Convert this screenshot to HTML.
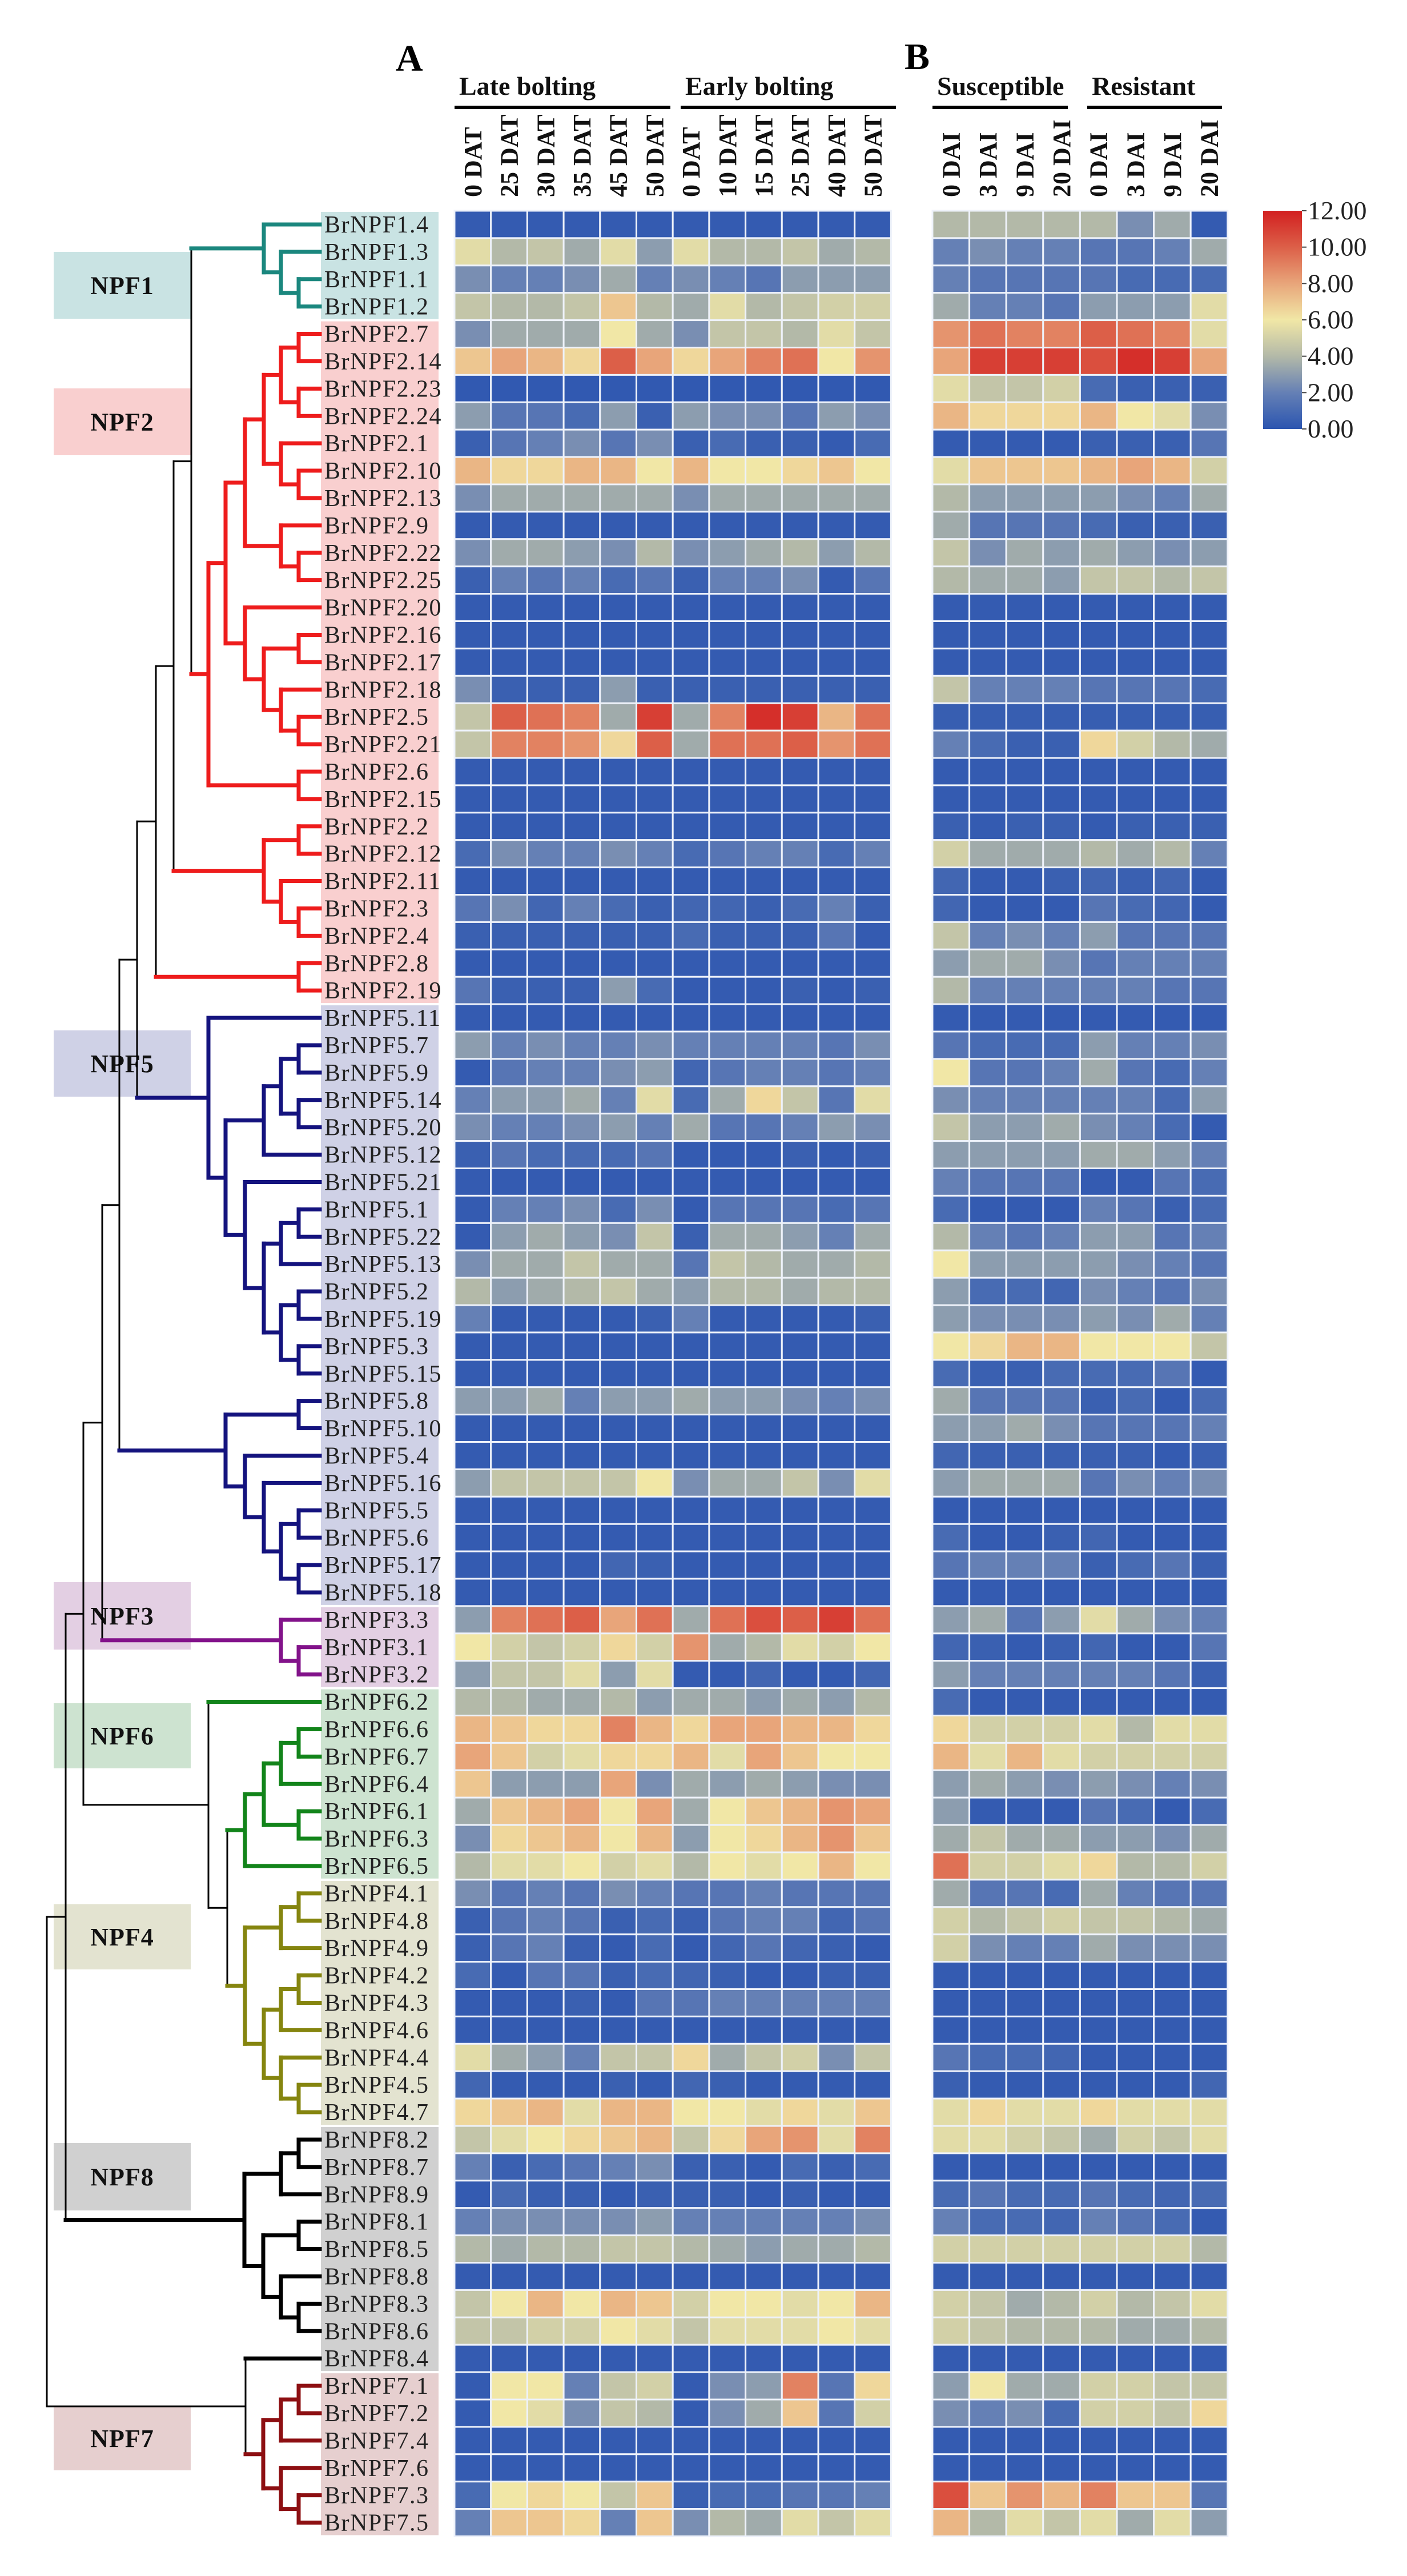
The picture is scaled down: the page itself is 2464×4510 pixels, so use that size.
<!DOCTYPE html>
<html><head><meta charset="utf-8">
<style>
html,body{margin:0;padding:0;background:#fff;}
svg{display:block;}
text{font-family:"Liberation Serif",serif;}
</style></head>
<body>
<svg id="fig" xmlns="http://www.w3.org/2000/svg" width="2464" height="4510" viewBox="0 0 2464 4510"></svg>
<script>
const genes=["BrNPF1.4","BrNPF1.3","BrNPF1.1","BrNPF1.2","BrNPF2.7","BrNPF2.14","BrNPF2.23","BrNPF2.24","BrNPF2.1","BrNPF2.10","BrNPF2.13","BrNPF2.9","BrNPF2.22","BrNPF2.25","BrNPF2.20","BrNPF2.16","BrNPF2.17","BrNPF2.18","BrNPF2.5","BrNPF2.21","BrNPF2.6","BrNPF2.15","BrNPF2.2","BrNPF2.12","BrNPF2.11","BrNPF2.3","BrNPF2.4","BrNPF2.8","BrNPF2.19","BrNPF5.11","BrNPF5.7","BrNPF5.9","BrNPF5.14","BrNPF5.20","BrNPF5.12","BrNPF5.21","BrNPF5.1","BrNPF5.22","BrNPF5.13","BrNPF5.2","BrNPF5.19","BrNPF5.3","BrNPF5.15","BrNPF5.8","BrNPF5.10","BrNPF5.4","BrNPF5.16","BrNPF5.5","BrNPF5.6","BrNPF5.17","BrNPF5.18","BrNPF3.3","BrNPF3.1","BrNPF3.2","BrNPF6.2","BrNPF6.6","BrNPF6.7","BrNPF6.4","BrNPF6.1","BrNPF6.3","BrNPF6.5","BrNPF4.1","BrNPF4.8","BrNPF4.9","BrNPF4.2","BrNPF4.3","BrNPF4.6","BrNPF4.4","BrNPF4.5","BrNPF4.7","BrNPF8.2","BrNPF8.7","BrNPF8.9","BrNPF8.1","BrNPF8.5","BrNPF8.8","BrNPF8.3","BrNPF8.6","BrNPF8.4","BrNPF7.1","BrNPF7.2","BrNPF7.4","BrNPF7.6","BrNPF7.3","BrNPF7.5"];
const colsA=["0 DAT","25 DAT","30 DAT","35 DAT","45 DAT","50 DAT","0 DAT","10 DAT","15 DAT","25 DAT","40 DAT","50 DAT"];
const colsB=["0 DAI","3 DAI","9 DAI","20 DAI","0 DAI","3 DAI","9 DAI","20 DAI"];
const cbTicks=[0,2,4,6,8,10,12];
const valsA=[
[0.3,0.3,0.3,0.3,0.3,0.3,0.3,0.3,0.3,0.3,0.3,0.3],
[5.5,4,4.5,3.5,5.5,3,5.5,4,4,4.5,3.5,4],
[2.5,2,2,2.5,3.5,2,2.5,2,1.5,3,3,3],
[4.5,4,4,4.5,7,4,3.5,5.5,4,4.5,5,5],
[2.5,3.5,3.5,3.5,6,3.5,2.5,4.5,4.5,4,5.5,4.5],
[7,8,7.5,6.5,10,8,6.5,8,9,9.5,6,8.5],
[0.2,0.2,0.2,0.2,0.2,0.2,0.2,0.2,0.2,0.2,0.2,0.2],
[3,1.5,1.5,1,3,0.5,3,2.5,2.5,1.5,3,2.5],
[0.5,1.5,2,2.5,1.5,2.5,0.5,1,0.5,0.5,0.3,1],
[7.5,6.5,6.5,7.5,7.5,6,7.5,6,6,6.5,7,6],
[2.5,3.5,3.5,3.5,3.5,3.5,2.5,3.5,3.5,3.5,3.5,3.5],
[0.3,0.3,0.3,0.3,0.3,0.3,0.3,0.3,0.3,0.3,0.3,0.3],
[2.5,3.5,3.5,3,2.5,4,2.5,3,3.5,4,3,4],
[0.5,2,1.5,2,1,1.5,0.5,2,2,2.5,0.3,1.5],
[0.3,0.3,0.3,0.3,0.3,0.3,0.3,0.3,0.3,0.3,0.3,0.3],
[0.3,0.3,0.3,0.3,0.3,0.3,0.3,0.3,0.3,0.3,0.3,0.3],
[0.3,0.3,0.3,0.3,0.3,0.3,0.3,0.3,0.3,0.3,0.3,0.3],
[2.5,0.5,0.5,0.5,3,0.5,0.5,0.5,0.5,0.5,0.5,0.5],
[4.5,10,9.5,9,3.5,11,3.5,9,11.5,11,7.5,9.5],
[4.5,9,9,8.5,6.5,10,3.5,9.5,9.5,10,8.5,9.5],
[0.3,0.3,0.3,0.3,0.3,0.3,0.3,0.3,0.3,0.3,0.3,0.3],
[0.3,0.3,0.3,0.3,0.3,0.3,0.3,0.3,0.3,0.3,0.3,0.3],
[0.3,0.3,0.3,0.3,0.3,0.3,0.3,0.3,0.3,0.3,0.3,0.3],
[1,2.5,2,2,2.5,2,1,1.5,2,2,1,2],
[0.3,0.3,0.3,0.3,0.3,0.3,0.3,0.3,0.3,0.3,0.3,0.3],
[1.5,2.5,0.8,2,1,0.5,0.8,0.8,0.5,1,2,0.5],
[0.5,0.5,0.5,0.5,0.5,0.5,1,0.5,0.5,0.5,1.5,0.3],
[0.3,0.3,0.3,0.3,0.3,0.3,0.3,0.3,0.3,0.3,0.3,0.3],
[1.5,0.5,0.5,0.5,3,1,0.3,0.3,0.3,0.5,0.3,0.5],
[0.3,0.3,0.3,0.3,0.3,0.3,0.3,0.3,0.3,0.3,0.3,0.3],
[3,2,2.5,2,2,2.5,2,2,2,2,1.5,2.5],
[0.3,1.5,2,2,2.5,3,0.8,1.5,2,2,1.5,2],
[2,3,3,3.5,2,5.5,1,3.5,6.5,4.5,1.5,5.5],
[2.5,2,2,2.5,3,2,3.5,1.5,1.5,2,3,2.5],
[0.5,1.5,1,1,1,1.5,0.3,0.3,0.3,0.5,0.3,0.5],
[0.3,0.3,0.3,0.3,0.3,0.3,0.3,0.3,0.3,0.3,0.3,0.3],
[0.3,2,2,2.5,1,2.5,0.3,1.5,1.5,1.5,1,1.5],
[0.3,3,3.5,3,2.5,4.5,0.5,3.5,3.5,3,2,3.5],
[2.5,3.5,3.5,4.5,3.5,3.5,1.5,4.5,4,3.5,3.5,4],
[4,3,3.5,4,4.5,3.5,3,4,4,3.5,4,4],
[2,0.3,0.3,0.3,0.3,0.5,2,0.3,0.3,0.3,0.3,0.5],
[0.3,0.3,0.3,0.3,0.3,0.3,0.3,0.3,0.3,0.3,0.3,0.3],
[0.3,0.3,0.3,0.3,0.3,0.3,0.3,0.3,0.3,0.3,0.3,0.3],
[3,3,3.5,2,3,3,3.5,3,3,2.5,2,2.5],
[0.3,0.3,0.3,0.3,0.3,0.3,0.3,0.3,0.3,0.3,0.3,0.3],
[0.3,0.3,0.3,0.3,0.3,0.3,0.3,0.3,0.3,0.3,0.3,0.3],
[3,4.5,4.5,4.5,4.5,6,2.5,3.5,3.5,4.5,2.5,5.5],
[0.3,0.3,0.3,0.3,0.3,0.3,0.3,0.3,0.3,0.3,0.3,0.3],
[0.3,0.3,0.3,0.3,0.3,0.3,0.3,0.3,0.3,0.3,0.3,0.3],
[0.3,0.3,0.3,0.3,0.8,0.5,0.3,0.3,0.3,0.3,0.3,0.3],
[0.3,0.3,0.3,0.3,0.3,0.3,0.3,0.3,0.3,0.3,0.3,0.3],
[3,9,9.5,10,8,9.5,3.5,9.5,10.5,10,11,9.5],
[6,5,4.5,5,6.5,5,8.5,3.5,4,5.5,5,6],
[3,4.5,4.5,5.5,3,5.5,0.3,0.3,0.8,0.3,0.3,0.8],
[4,4,3.5,3.5,4,3,3.5,3.5,3,3.5,3,4],
[7.5,7,6.5,6.5,9,7.5,6.5,8,8,7.5,7.5,6.5],
[8,7,5,5.5,6.5,6.5,7.5,5.5,8,7,6,6],
[7,3,3,3,8,2.5,3.5,3,3.5,3,2.5,2.5],
[3.5,7,7.5,8,6,8,3.5,6,7,7.5,8.5,8],
[2.5,6.5,7,7.5,6,7.5,3,6,6.5,7.5,8.5,7],
[4,5.5,5.5,6,5,5.5,4,6,5.5,6,7.5,6],
[2.5,1.5,2,1.5,2.5,2,1.5,1.5,2,1.5,1.5,1.5],
[0.5,1.5,2,1.5,0.5,1,0.5,1.5,2,2,0.8,1.5],
[0.5,1.5,2,0.5,0.3,1,0.3,0.8,1.5,0.8,0.5,0.3],
[1,0.3,1.5,1.5,0.5,1,0.8,0.5,0.3,0.3,0.5,0.5],
[0.3,0.3,0.3,0.5,0.3,1.5,1.5,2,2,2,2,2],
[0.3,0.3,0.3,0.3,0.3,0.3,0.3,0.3,0.3,0.3,0.3,0.3],
[5.5,3.5,3,2,4.5,4.5,6.5,3.5,4.5,5,2.5,4.5],
[0.8,0.3,0.3,0.3,0.5,0.3,0.8,0.5,0.3,0.3,0.3,0.3],
[6.5,7,7.5,5.5,7.5,7.5,6,6,5.5,6.5,5.5,7],
[4.5,5.5,6,6.5,7,7.5,4.5,6.5,8,8.5,5.5,9],
[2,0.5,1,1.5,2,2.5,0.5,0.5,0.3,1,0.5,1],
[0.3,1,0.5,0.5,0.3,0.5,0.5,0.5,0.3,0.5,0.3,0.3],
[2,2.5,2.5,2.5,2.5,3,2,2,2,2,2,2.5],
[4,3.5,4,4,4.5,4.5,4,3.5,3,3.5,3.5,4],
[0.3,0.3,0.3,0.3,0.3,0.3,0.3,0.3,0.3,0.3,0.3,0.3],
[4.5,6,7.5,6,7.5,7,5,6,6,5.5,6,7.5],
[4.5,4.5,5,5,6,5.5,4.5,5.5,5.5,5.5,6,5.5],
[0.3,0.3,0.3,0.3,0.3,0.3,0.3,0.3,0.3,0.3,0.3,0.3],
[0.3,6,6,2,4.5,5,0.3,2.5,3,9,1.5,6.5],
[0.3,6,5.5,2.5,4.5,4,0.3,2.5,3.5,7,1.5,5],
[0.3,0.3,0.3,0.3,0.3,0.3,0.3,0.3,0.3,0.3,0.3,0.3],
[0.3,0.3,0.3,0.3,0.3,0.3,0.3,0.3,0.3,0.3,0.3,0.3],
[1,6,6.5,6,4.5,7,0.5,1,1,1.5,1.5,2],
[2,7,7,6.5,2,7,2.5,4,3.5,5.5,4.5,5.5]];
const valsB=[
[4,4,4,4,4,2.5,3.5,0.3],[2,2.5,2,2,1.5,1.5,2,3.5],[2,1.5,1.5,1.5,1.5,1,1,1],[3.5,2,2,1.5,3,3,3,5.5],
[8.5,9.5,9,9,10,9.5,9,5.5],[8,11,11,11,10.5,11.5,11,8],[5.5,4.5,4.5,5,1,0.5,0.5,0.5],[7.5,6.5,6.5,6.5,7.5,6,5.5,2.5],
[0.3,0.3,0.3,0.3,0.5,0.5,0.5,1.5],[5.5,7,7,7,7.5,8,7.5,5],[4,3,3,3,3,2.5,2,3.5],[3.5,1.5,1.5,1.5,1,0.5,0.5,0.5],
[4.5,2.5,3.5,3,3.5,3,2.5,3],[4,3.5,3.5,3,4.5,4.5,4,4.5],[0.3,0.3,0.3,0.3,0.3,0.3,0.3,0.3],[0.3,0.3,0.3,0.3,0.3,0.3,0.3,0.3],
[0.3,0.3,0.3,0.3,0.3,0.3,0.3,0.3],[4.5,2,2,2,1.5,1.5,1.5,1],[0.4,0.4,0.4,0.4,0.4,0.4,0.4,0.4],[2,1,0.5,0.5,6.5,5,4,3.5],
[0.3,0.3,0.3,0.3,0.3,0.3,0.3,0.3],[0.3,0.3,0.3,0.3,0.3,0.3,0.3,0.3],[0.5,0.3,0.5,0.5,0.3,0.5,0.5,0.5],[5,3.5,3.5,3.5,4,3.5,4,2],
[0.8,0.3,0.3,0.5,0.8,0.5,0.8,0.3],[0.8,0.3,0.3,0.3,1.5,1,0.8,0.3],[4.5,2,2.5,2,3,1.5,1.5,1.5],[3,3.5,3.5,2.5,1.5,2,2,2],
[4,2,2,2,2,2,1.5,1.5],[0.3,0.3,0.3,0.3,0.3,0.3,0.3,0.3],[1.5,1,1,1,3,2,2,2.5],[6,1.5,1.5,2,3.5,1.5,1,2],
[2.5,2,2,2,2,2,1,3],[4.5,3,3,3.5,2.5,2,1,0.3],[3,3,3,3,3.5,3.5,3,2],[2,1.5,1.5,1.5,0.3,0.3,1.5,1],
[1,0.3,0.3,0.3,2,1.5,0.5,1],[4,2,1.5,2,3,3,1.5,2],[6,3,3,3,3,2.5,2,1.5],[3,1,1,0.8,2.5,2,1.5,2.5],
[3,2.5,2.5,2.5,3,2.5,3.5,2],[6,6.5,7.5,7.5,6,6,6,4.5],[1,0.5,0.5,1,1,1,1.5,0.3],[3.5,1.5,1.5,1.5,0.5,1,0.3,1],
[3,3,3.5,2.5,1.5,1.5,1.5,2],[0.8,0.5,0.5,0.5,0.5,0.5,0.3,0.5],[3,3.5,3.5,3.5,1.5,2.5,2,2.5],[0.3,0.3,0.3,0.3,0.3,0.3,0.3,0.3],
[1,0.3,0.3,0.5,0.8,0.3,0.3,0.3],[1.5,2,2,2,0.5,1,1.5,0.5],[0.3,0.3,0.3,0.3,0.3,0.3,0.3,0.3],[3,3.5,1.5,3,5.5,3.5,2.5,2],
[0.8,0.5,0.3,0.5,0.8,0.3,0.3,1.5],[3,2,2,2,2,2,1.5,0.5],[1,0.3,0.3,0.3,0.3,0.3,0.3,0.3],[6.5,5,5,5,5.5,4,5.5,5.5],
[7.5,5.5,7.5,5.5,5,5,5,5],[3,3.5,3,2.5,3,2.5,2,2.5],[3,0.3,0.3,0.3,1.5,1,0.3,1],[3.5,4.5,3.5,3.5,3,3,2.5,3.5],
[9.5,5,5,5.5,6.5,4,4,5],[3.5,1.5,1.5,1,3.5,2,1.5,1.5],[5,4,4.5,5,4.5,4.5,4,3.5],[5,2.5,2,2,3.5,2.5,2.5,2.5],
[0.3,0.3,0.3,0.3,0.3,0.3,0.3,0.3],[0.3,0.3,0.3,0.3,0.3,0.3,0.3,0.3],[0.3,0.3,0.3,0.3,0.3,0.3,0.3,0.3],[1.5,1,1,0.8,0.3,0.3,0.3,0.3],
[0.5,0.3,0.3,0.3,0.3,0.3,0.3,0.8],[5.5,6.5,5.5,5.5,6.5,5.5,5.5,5.5],[5.5,5.5,5,4.5,3.5,5,4.5,5.5],[0.3,0.3,0.3,0.3,0.3,0.3,0.3,0.3],
[1,1.5,1,1,1.5,1,0.8,1],[2,1,1,0.8,2,1.5,1,0.3],[5,5,5,5,5,5,5,4],[0.3,0.3,0.3,0.3,0.3,0.3,0.3,0.3],
[5,4.5,3.5,4,5,4,4.5,5.5],[5,4.5,4,4,4,3.5,3.5,4],[0.3,0.3,0.3,0.3,0.3,0.3,0.3,0.3],[3,6,3.5,3.5,5,5,4.5,4.5],
[2.5,2,2.5,1,5,5,4.5,6.5],[0.3,0.3,0.3,0.3,0.3,0.3,0.3,0.3],[0.3,0.3,0.3,0.3,0.3,0.3,0.3,0.3],[10.5,7,8.5,7.5,9,7,7,1.5],
[7.5,4,5.5,4.5,5.5,3.5,5.5,3]];

const NS="http://www.w3.org/2000/svg";
const svg=document.getElementById('fig');
function mk(tag,attrs,parent){const e=document.createElementNS(NS,tag);for(const k in attrs)e.setAttribute(k,attrs[k]);(parent||svg).appendChild(e);return e;}

// layout
const Y0=369, RH=47.9, AX0=796, AW=63.7, BX0=1633, BW=64.6, VMAX=12;
const yRow=i=>Y0+i*RH;
const xA=j=>AX0+j*AW;
const xB=j=>BX0+j*BW;
const stops=[[0,[43,85,176]],[2,[101,128,181]],[4,[179,185,168]],[6,[241,231,166]],[8,[232,165,122]],[10,[220,95,72]],[12,[210,31,32]]];
function color(v){v=Math.max(0,Math.min(VMAX,v));for(let k=0;k<stops.length-1;k++){const a=stops[k],b=stops[k+1];if(v<=b[0]){const t=(v-a[0])/(b[0]-a[0]);const c=a[1].map((x,m)=>Math.round(x+(b[1][m]-x)*t));return `rgb(${c[0]},${c[1]},${c[2]})`;}}return 'rgb(210,31,32)';}

// group backgrounds
const groups=[["NPF1",0,3,"#c9e3e3","#1b877e",441,558],["NPF2",4,28,"#f9cfcf","#ee1c1c",680,797],["NPF5",29,50,"#cfd1e6","#14137e",1804,1920],["NPF3",51,53,"#e3cfe3","#82128a",2770,2888],["NPF6",54,60,"#cde3d0","#12841a",2982,3096],["NPF4",61,69,"#e3e3d0","#85850f",3334,3448],["NPF8",70,78,"#d0d0d0","#000000",3752,3870],["NPF7",79,84,"#e6cfcf","#8d0f12",4213,4325]];
const gl=mk('g',{});


groups.forEach(g=>{
  const r=mk('rect',{x:562,y:yRow(g[1])+2,width:206,height:(g[2]-g[1]+1)*RH-4,fill:g[3]},gl);
  
  
  const b=mk('rect',{x:94,y:g[5],width:240,height:g[6]-g[5],fill:g[3]});
  
  
  const t=mk('text',{x:214,y:(g[5]+g[6])/2+15,'text-anchor':'middle','font-size':44,'font-weight':'bold',fill:'#111','letter-spacing':'1'});
  t.textContent=g[0];
  
  
});
function groupOf(i){return groups.find(g=>i>=g[1]&&i<=g[2]);}
genes.forEach((n,i)=>{
  const t=mk('text',{x:568,y:yRow(i)+RH/2+14,'font-size':42,fill:'#222','letter-spacing':'1.5'},gl);
  t.textContent=n;
  
  
});

// tree
const L=i=>({leaf:i});
const N=(x,col,...c)=>({x,col,c});
const R='#ee1c1c',T='#1b877e',B5='#14137e',P='#82128a',G6='#12841a',O='#85850f',K='#000',D7='#8d0f12';
const npf1=N(462,T,L(0),N(492,T,L(1),N(523,T,L(2),L(3))));
const n2a=N(462,R,N(492,R,N(523,R,L(4),L(5)),N(523,R,L(6),L(7))),N(492,R,L(8),N(523,R,L(9),L(10))));
const n2b=N(492,R,L(11),N(523,R,L(12),L(13)));
const n2c=N(429,R,L(14),N(462,R,N(523,R,L(15),L(16)),N(492,R,L(17),N(523,R,L(18),L(19)))));
const n2core=N(365,R,N(395,R,N(429,R,n2a,n2b),n2c),N(523,R,L(20),L(21)));
const n2e=N(462,R,N(523,R,L(22),L(23)),N(492,R,L(24),N(523,R,L(25),L(26))));
const n2f=N(523,R,L(27),L(28));
const n5a=N(365,B5,L(29),N(395,B5,N(462,B5,N(492,B5,N(523,B5,L(30),L(31)),N(523,B5,L(32),L(33))),L(34)),N(429,B5,L(35),N(462,B5,N(492,B5,N(523,B5,L(36),L(37)),L(38)),N(492,B5,N(523,B5,L(39),L(40)),N(523,B5,L(41),L(42)))))));
const n5b=N(395,B5,N(523,B5,L(43),L(44)),N(429,B5,L(45),N(462,B5,L(46),N(492,B5,N(523,B5,L(47),L(48)),N(523,B5,L(49),L(50))))));
const npf3=N(492,P,L(51),N(523,P,L(52),L(53)));
const npf6r=N(429,G6,N(462,G6,N(492,G6,N(523,G6,L(55),L(56)),L(57)),N(523,G6,L(58),L(59))),L(60));
const npf4=N(429,O,N(492,O,N(523,O,L(61),L(62)),L(63)),N(462,O,N(492,O,N(523,O,L(64),L(65)),L(66)),N(492,O,L(67),N(523,O,L(68),L(69)))));
const n64=N(365,K,L(54),N(398,K,npf6r,npf4));
const npf8=N(428,K,N(492,K,N(523,K,L(70),L(71)),L(72)),N(461,K,N(523,K,L(73),L(74)),N(492,K,L(75),N(523,K,L(76),L(77)))));
const npf7=N(461,D7,N(492,D7,N(523,D7,L(79),L(80)),L(81)),N(492,D7,L(82),N(523,D7,L(83),L(84))));
const n7g=N(430,K,L(78),npf7);
const tree=N(82,K,N(115,K,N(146,K,N(179,K,N(209,K,N(240,K,N(273,K,N(304,K,N(335,K,npf1,n2core),n2e),n2f),n5a),n5b),npf3),n64),npf8),n7g);
const LEAFX=560;
const tg=mk('g',{fill:'none','stroke-linecap':'square'});


function yOf(n){if(n.leaf!==undefined)return yRow(n.leaf)+RH/2;if(n.y===undefined){const ys=n.c.map(yOf);n.y=(ys[0]+ys[ys.length-1])/2;}return n.y;}
function colOf(n){return n.leaf!==undefined?groupOf(n.leaf)[4]:n.col;}
function wOf(c){return c==='#000'?(thin?3:7):7;}
let thin=false;
function draw(n,depth){
  const ys=n.c.map(yOf);
  const bb=(n.col===K&&n.x<=398&&n!==n64)||n===n64;
  const sw=(n.col===K && (n.x<=398||n===n7g))?3:7;
  const v=mk('line',{x1:n.x,y1:ys[0],x2:n.x,y2:ys[ys.length-1],stroke:n.col,'stroke-width':sw},tg);
  
  
  n.c.forEach((ch,k)=>{
    const cx=ch.leaf!==undefined?LEAFX:ch.x;
    const cc=colOf(ch);
    let w=7;
    if(cc===K&&ch.leaf===undefined&&ch.x<=398&&ch!==npf8)w=3;
    if(ch===n7g)w=3;
    const h=mk('line',{x1:n.x,y1:ys[k],x2:cx,y2:ys[k],stroke:cc,'stroke-width':w},tg);
    
    
    if(ch.leaf===undefined)draw(ch,depth+1);
  });
}
draw(tree,0);

// heatmaps
function heat(vals,x0,w,ncol,name){
  const g=mk('g',{});
  
  
  vals.forEach((row,i)=>row.forEach((v,j)=>{
    const r=mk('rect',{x:x0+j*w,y:yRow(i),width:w,height:RH,fill:color(v),stroke:'#eef2fa','stroke-width':3},g);
    
    
  }));
}
heat(valsA,AX0,AW,12,'heatmap-a');
heat(valsB,BX0,BW,8,'heatmap-b');

// column labels
function colLabels(labels,xf,w,name){
  labels.forEach((s,j)=>{
    const cx=xf(j)+w/2+15;
    const t=mk('text',{x:cx,y:345,'font-size':44,'font-weight':'bold',fill:'#111',transform:`rotate(-90 ${cx} 345)`});
    t.textContent=s;
    
    
  });
}
colLabels(colsA,xA,AW,'column-label-a');
colLabels(colsB,xB,BW,'column-label-b');

// headers
const heads=[["Late bolting",796,1174],["Early bolting",1192,1569],["Susceptible",1633,1870],["Resistant",1904,2140]];
heads.forEach(h=>{
  const t=mk('text',{x:h[1]+8,y:166,'font-size':46,'font-weight':'bold',fill:'#111'});
  t.textContent=h[0];
  
  
  const l=mk('rect',{x:h[1],y:185,width:h[2]-h[1],height:6,fill:'#000'});
  
  
});
const pa=mk('text',{x:693,y:124,'font-size':66,'font-weight':'bold',fill:'#000'});pa.textContent='A';


const pb=mk('text',{x:1584,y:121,'font-size':66,'font-weight':'bold',fill:'#000'});pb.textContent='B';



// colorbar
const CBY0=369, CBY1=751, CBX=2212, CBW=68;
const defs=mk('defs',{});
const lg=mk('linearGradient',{id:'cbg',x1:0,y1:1,x2:0,y2:0},defs);
stops.forEach(s=>mk('stop',{offset:s[0]/VMAX,'stop-color':color(s[0])},lg));
const cb=mk('rect',{x:CBX,y:CBY0,width:CBW,height:CBY1-CBY0,fill:'url(#cbg)'});


const cby=v=>CBY1-(v/VMAX)*(CBY1-CBY0);
cbTicks.forEach(v=>{
  const tk=mk('line',{x1:CBX+CBW,y1:cby(v),x2:CBX+CBW+8,y2:cby(v),stroke:'#444','stroke-width':2});
  
  
  const t=mk('text',{x:CBX+CBW+10,y:cby(v)+15,'font-size':46,fill:'#222'});
  t.textContent=v.toFixed(2);
  
  
});
</script>
</body></html>
